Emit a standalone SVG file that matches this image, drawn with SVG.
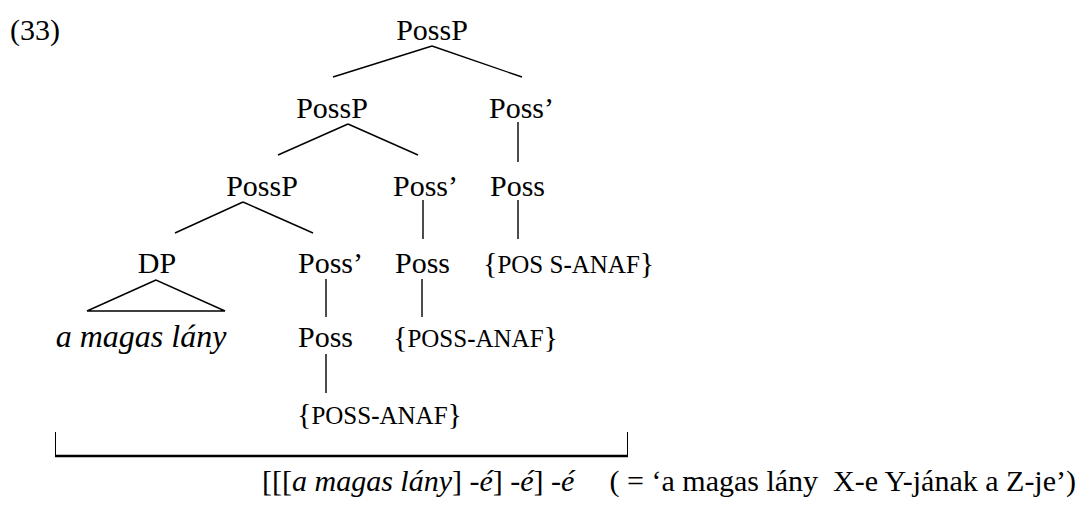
<svg xmlns="http://www.w3.org/2000/svg" width="1084" height="509" viewBox="0 0 1084 509" font-family="'Liberation Serif', Tinos, 'Times New Roman', Times, 'DejaVu Serif', serif">
<style>
  text { font-family: 'Liberation Serif', Tinos, 'Times New Roman', Times, 'DejaVu Serif', serif; font-size: 30px; fill: #000; }
  .it { font-style: italic; }
  .sc { font-size: 25px; }
  .br { font-size: 30px; }
  .edge { stroke: #000; stroke-width: 1.4; fill: none; }
  .brk { stroke: #000; stroke-width: 1; fill: none; }
  .brkb { stroke: #000; stroke-width: 2.5; fill: none; }
</style>
<rect width="1084" height="509" fill="#fff"/>
<text x="10" y="40">(33)</text>
<g id="connectors">
  <line class="edge" x1="432" y1="46" x2="333" y2="77"/>
  <line class="edge" x1="432" y1="46" x2="522" y2="77"/>
  <line class="edge" x1="348" y1="124" x2="278" y2="155"/>
  <line class="edge" x1="348" y1="124" x2="418" y2="155"/>
  <line class="edge" x1="518" y1="122" x2="518" y2="162"/>
  <line class="edge" x1="243" y1="202" x2="175" y2="233"/>
  <line class="edge" x1="243" y1="202" x2="313" y2="233"/>
  <line class="edge" x1="423" y1="200" x2="423" y2="239"/>
  <line class="edge" x1="518" y1="200" x2="518" y2="239"/>
  <polygon class="edge" points="156,280 87,311 225,311"/>
  <line class="edge" x1="326" y1="279" x2="326" y2="317"/>
  <line class="edge" x1="422" y1="279" x2="422" y2="317"/>
  <line class="edge" x1="326" y1="354" x2="326" y2="393"/>
</g>
<g id="n-posspA"><text x="432" y="40" text-anchor="middle">PossP</text></g>
<g id="n-posspB"><text x="332" y="118" text-anchor="middle">PossP</text></g>
<g id="n-possbarB"><text x="489" y="118">Poss’</text></g>
<g id="n-posspC"><text x="262" y="196" text-anchor="middle">PossP</text></g>
<g id="n-possbarC"><text x="393" y="196">Poss’</text></g>
<g id="n-possB"><text x="490" y="196">Poss</text></g>
<g id="n-dp"><text x="157" y="273" text-anchor="middle">DP</text></g>
<g id="n-possbarD"><text x="298" y="273">Poss’</text></g>
<g id="n-possC"><text x="395" y="273">Poss</text></g>
<g id="n-anafB"><text x="483" y="273" xml:space="preserve"><tspan class="br">{</tspan><tspan class="sc">POS S</tspan><tspan font-weight="bold" class="sc">-</tspan><tspan class="sc">ANAF</tspan><tspan class="br">}</tspan></text></g>
<g id="n-dpterm"><text class="it" x="141" y="347" text-anchor="middle" font-size="32" style="font-size:32px">a magas lány</text></g>
<g id="n-possD"><text x="298" y="347">Poss</text></g>
<g id="n-anafC"><text x="393" y="347"><tspan class="br">{</tspan><tspan class="sc">POSS</tspan><tspan font-weight="bold" class="sc">-</tspan><tspan class="sc">ANAF</tspan><tspan class="br">}</tspan></text></g>
<g id="n-anafD"><text x="297" y="424"><tspan class="br">{</tspan><tspan class="sc">POSS</tspan><tspan font-weight="bold" class="sc">-</tspan><tspan class="sc">ANAF</tspan><tspan class="br">}</tspan></text></g>
<g id="bracket">
  <line class="brk" x1="55.5" y1="432" x2="55.5" y2="457"/>
  <line class="brk" x1="627.5" y1="432" x2="627.5" y2="457"/>
  <line class="brkb" x1="55" y1="456" x2="628" y2="456"/>
</g>
<text x="262" y="491">[[[<tspan class="it">a magas lány</tspan>] <tspan class="it">-é</tspan>] <tspan class="it">-é</tspan>] <tspan class="it">-é</tspan></text>
<text x="1076" y="491" text-anchor="end" xml:space="preserve">( = ‘a magas lány  X-e Y-jának a Z-je’)</text>
</svg>
